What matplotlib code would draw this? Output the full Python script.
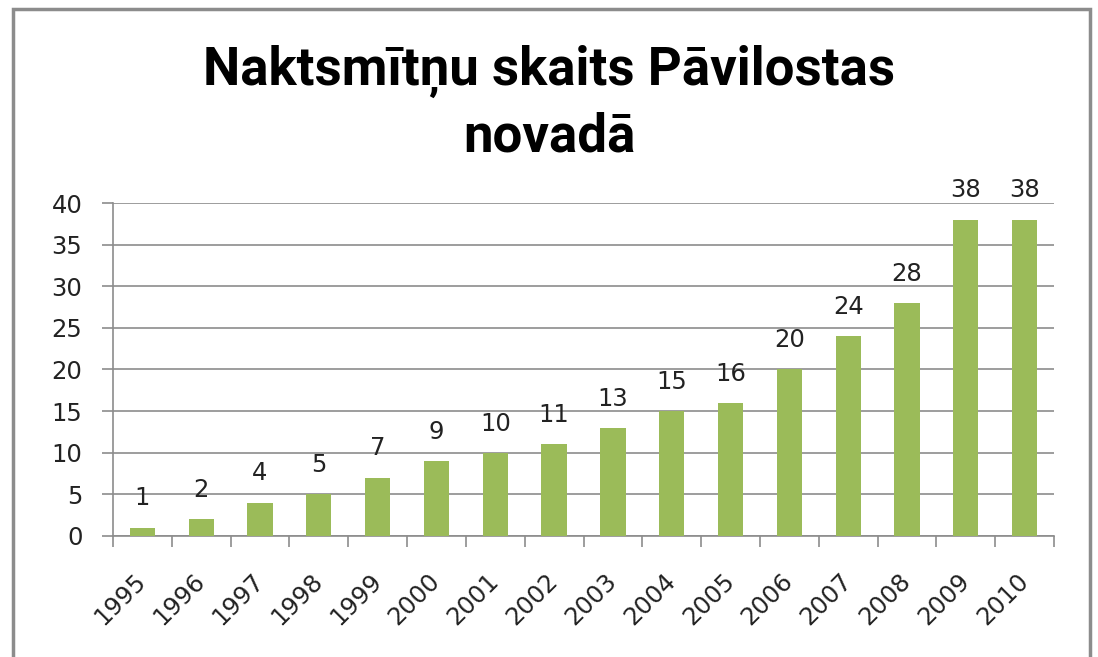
import matplotlib.pyplot as plt
import numpy as np
from matplotlib.patches import Rectangle

years = ['1995', '1996', '1997', '1998', '1999', '2000', '2001', '2002',
         '2003', '2004', '2005', '2006', '2007', '2008', '2009', '2010']
counts = [1, 2, 4, 5, 7, 9, 10, 11, 13, 15, 16, 20, 24, 28, 38, 38]

title = 'Naktsmītņu skaits Pāvilostas\nnovadā'
bar_color = '#9BBB59'
grid_color = '#8c8c8c'
text_font = 'DejaVu Sans'
label_size = 17.5

plt.rcParams['font.family'] = [text_font]

fig = plt.figure(figsize=(10.98, 6.57), dpi=100)
ax = fig.add_axes([0.1029, 0.1842, 0.8571, 0.5068])

x = np.arange(len(years))
bars = ax.bar(x, counts, width=0.43, color=bar_color, zorder=3)

for xi, val in zip(x, counts):
    ax.annotate(str(val), (xi, val), xytext=(0, 16), textcoords='offset points',
                ha='center', va='baseline', fontsize=label_size, color='#222222',
                family=text_font)

ax.set_xlim(-0.5, len(years) - 0.5)
ax.set_ylim(0, 40)
ax.set_yticks(range(0, 41, 5))
ax.set_yticklabels([str(v) for v in range(0, 41, 5)], family=text_font)
ax.yaxis.grid(True, color=grid_color, linewidth=1.2, zorder=0)
ax.tick_params(axis='y', length=8, color=grid_color, width=1.2, labelsize=label_size,
               labelcolor='#222222', pad=14)

ax.set_xticks(x)
ax.set_xticklabels(years, rotation=45, ha='right', va='center', rotation_mode='anchor',
                   fontsize=label_size, color='#222222', family=text_font)
ax.tick_params(axis='x', which='major', length=0, pad=30)
ax.set_xticks(np.arange(-0.5, len(years), 1), minor=True)
ax.tick_params(axis='x', which='minor', length=8, color=grid_color, width=1.2)

for side in ['top', 'right']:
    ax.spines[side].set_visible(False)
for side in ['left', 'bottom']:
    ax.spines[side].set_color(grid_color)
    ax.spines[side].set_linewidth(1.2)

fig.text(0.5, 0.842, title, ha='center', va='center', fontsize=38,
         fontweight='bold', linespacing=1.32, color='black',
         family=['Roboto', 'DejaVu Sans'])

# outer chart border
fig.patches.append(Rectangle((13 / 1098, -0.05), (1090 - 13) / 1098, 1.05 - 9 / 657,
                             transform=fig.transFigure, fill=False,
                             edgecolor='#8c8c8c', linewidth=2.5))

fig.savefig('out.png', dpi=100)
